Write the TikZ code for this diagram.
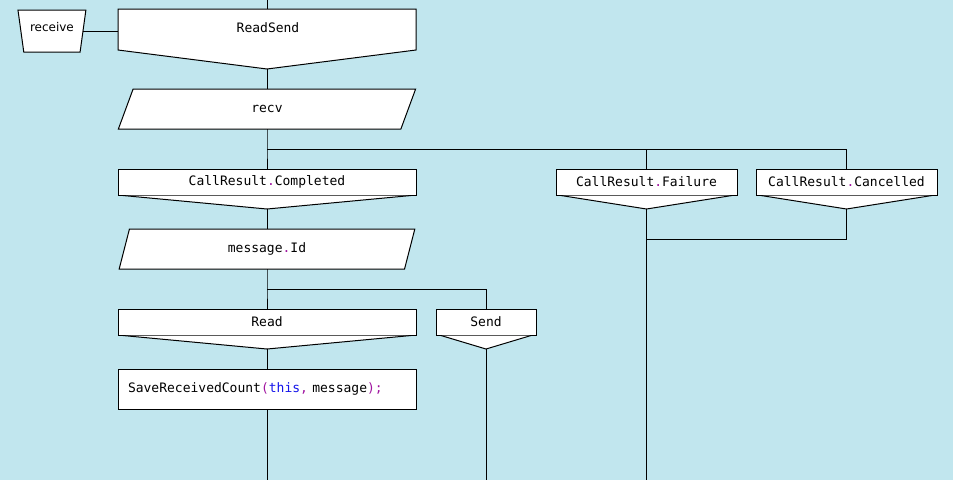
\documentclass[tikz,border=0pt]{standalone}
\usepackage{fontspec}
\setmainfont{DejaVu Sans}
\setmonofont{DejaVu Sans Mono}
\usetikzlibrary{positioning, shapes.geometric}

\definecolor{canvas}{RGB}{193,230,238}
\definecolor{punct}{RGB}{160,20,160}
\definecolor{kword}{RGB}{20,20,235}
\newcommand{\pu}[1]{\textcolor{punct}{#1}}
\newcommand{\kw}[1]{\textcolor{kword}{#1}}

\begin{document}
\begin{tikzpicture}[
            x=1pt, y=-1pt,
            line width=1pt,
            block/.style={draw, fill=white, minimum width=298pt, inner sep=0pt, outer sep=0pt,
                font=\fontsize{13}{15}\selectfont\ttfamily},
            casebox/.style={block, minimum height=26pt},
            iobox/.style={block, trapezium, trapezium stretches=true,
                trapezium left angle=77, trapezium right angle=103, minimum height=40pt},
            actbox/.style={block, minimum height=40pt, text width=278pt, inner xsep=10pt, align=left},
            headbox/.style={block, draw=none, minimum height=41pt},
            entrybox/.style={draw, fill=white, trapezium, trapezium stretches=true,
                shape border rotate=180, trapezium left angle=76, trapezium right angle=76,
                minimum width=68pt, minimum height=42pt, inner sep=0pt, outer sep=0pt,
                font=\fontsize{12}{14}\selectfont, text depth=9pt},
            tail/.style={fill=white, draw},
            link/.style={draw}
        ]
            \fill[canvas] (0,0) rectangle (953,480);
            \useasboundingbox (0,0) rectangle (953,480);
            \coordinate (ceil) at (0,0);
            \coordinate (floor) at (0,480);

            \node [headbox] (rsend) at (267,29.5) {};
            \coordinate (rsend-tip) at ([yshift=-19pt]rsend.south);
            \filldraw [tail] (rsend.north west) -- (rsend.north east) -- (rsend.south east)
                -- (rsend-tip) -- (rsend.south west) -- cycle;
            \node [font=\fontsize{13}{15}\selectfont\ttfamily] (rsend-text) at (268,28) {ReadSend};
            \node [left=35pt of rsend, yshift=-1.5pt, entrybox] (entry) {receive};

            \node [below=20pt of rsend-tip, iobox] (recv) {recv};
            \coordinate [below=20pt of recv.south] (split1);
            \node [below=40pt of recv.south, casebox] (done) {CallResult\pu{.}Completed};
            \node [right=140pt of done, casebox, minimum width=181pt] (fail) {CallResult\pu{.}Failure};
            \node [right=19pt of fail, casebox, minimum width=181pt] (cancel) {CallResult\pu{.}Cancelled};

            \coordinate (done-tip) at ([yshift=-14pt]done.south);
            \node [below=20pt of done-tip, iobox] (msgid) {message\pu{.}Id};
            \coordinate [below=20pt of msgid.south] (split2);
            \node [below=40pt of msgid.south, casebox] (rd) {Read};
            \node [right=20pt of rd, casebox, minimum width=100pt] (snd) {Send};

            \coordinate (rd-tip) at ([yshift=-14pt]rd.south);
            \node [below=20pt of rd-tip, actbox] (save)
                {SaveReceivedCount\pu{(}\kw{this}\pu{,} message\pu{);}};

            % V-shaped bottoms of the case boxes
            \foreach \c in {done, fail, cancel, rd, snd} {
                \coordinate (\c-tip) at ([yshift=-14pt]\c.south);
                \filldraw [tail] ([shift={(5pt,-0.5pt)}]\c.south west) -- (\c-tip)
                    -- ([shift={(-5pt,-0.5pt)}]\c.south east);
            }

            \draw [link] (rsend.north) -- (rsend.north |- ceil);
            \draw [link] (entry.east) -- (entry.east -| rsend.west);
            \draw [link] (rsend-tip) -- (recv.north);
            \draw [link] (recv.south) -- (split1) -- (done.north);
            \draw [link] (split1) -- (split1 -| cancel.north) -- (cancel.north);
            \draw [link] (fail.north) -- (fail.north |- split1);
            \draw [link] (cancel-tip) |- ([yshift=-30pt]fail-tip);
            \draw [link] (fail-tip) -- (fail-tip |- floor);
            \draw [link] (done-tip) -- (msgid.north);
            \draw [link] (msgid.south) -- (split2) -- (rd.north);
            \draw [link] (split2) -- (split2 -| snd.north) -- (snd.north);
            \draw [link] (snd-tip) -- (snd-tip |- floor);
            \draw [link] (rd-tip) -- (save.north);
            \draw [link] (save.south) -- (save.south |- floor);

        \end{tikzpicture}
\end{document}
